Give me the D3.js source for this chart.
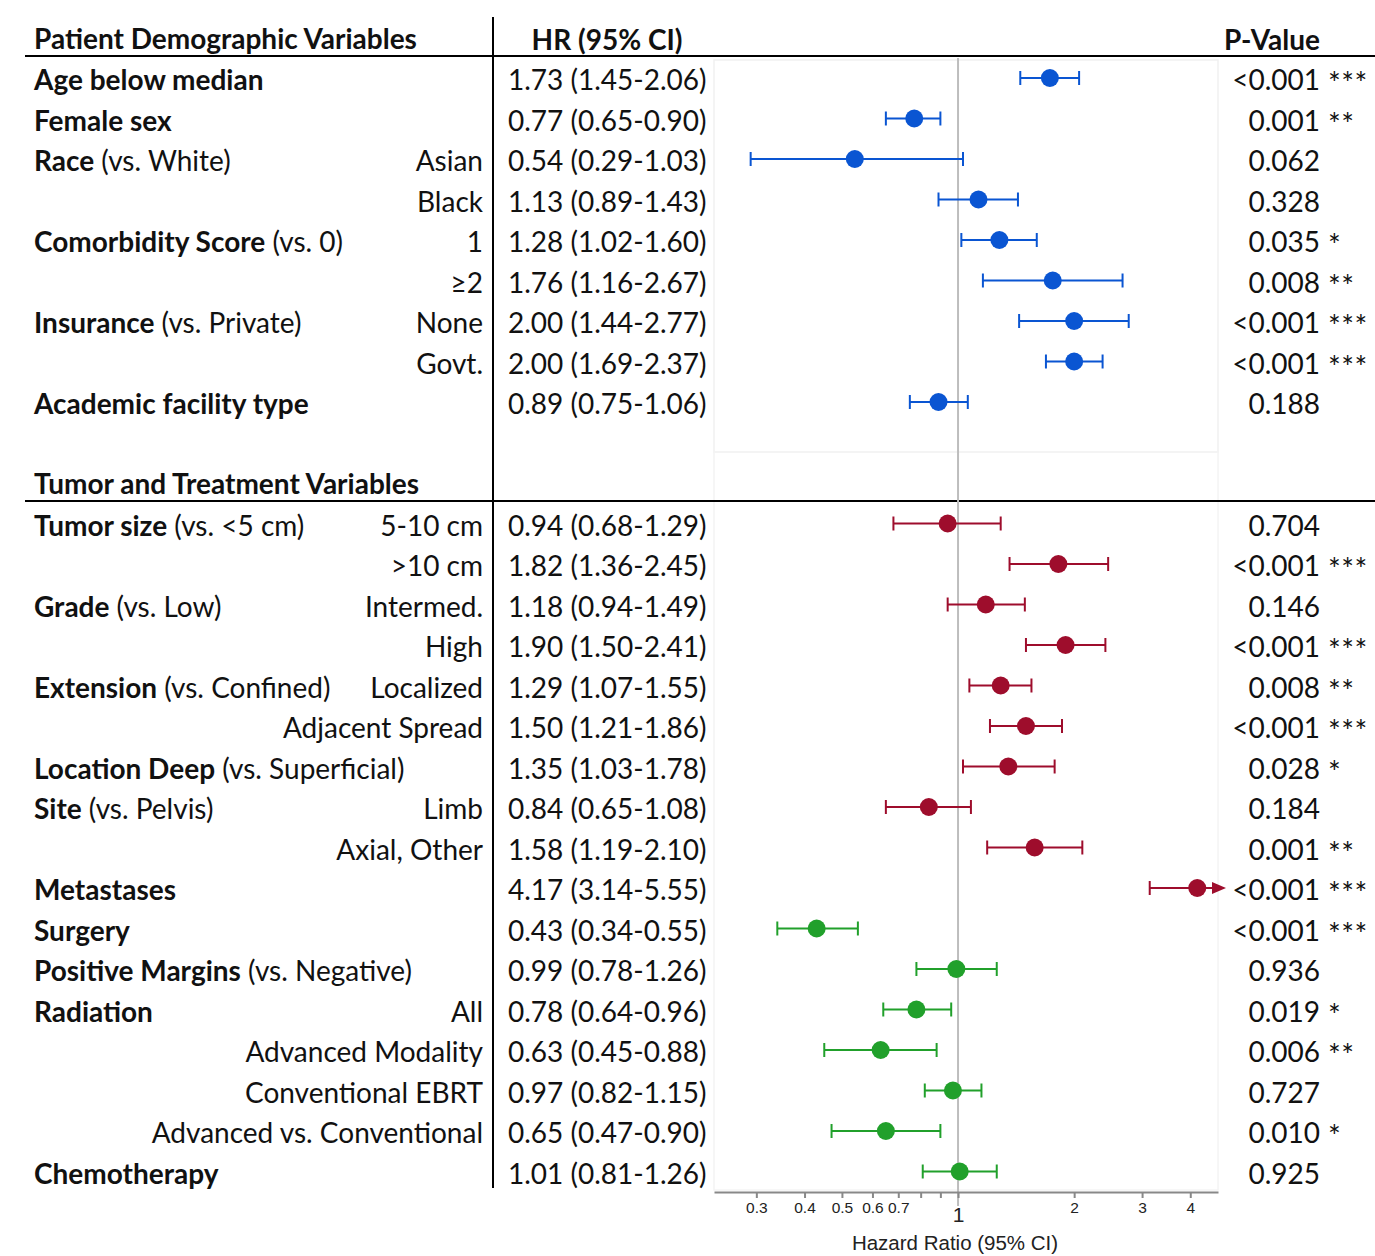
<!DOCTYPE html>
<html><head><meta charset="utf-8">
<script src="https://cdn.jsdelivr.net/npm/d3@7"></script>
<style>body{margin:0;background:#fff}</style>
</head><body><svg id="c" width="1375" height="1256"></svg>
<script>
// ---------- DATA ----------
const mainBold = ["Age below median","Female sex","Race","","Comorbidity Score","","Insurance","","Academic facility type",
  "Tumor size","","Grade","","Extension","","Location Deep","Site","","Metastases","Surgery","Positive Margins","Radiation","","","","Chemotherapy"];
const mainNote = ["","", " (vs. White)","", " (vs. 0)","", " (vs. Private)","","",
  " (vs. <5 cm)","", " (vs. Low)","", " (vs. Confined)",""," (vs. Superficial)"," (vs. Pelvis)","","","", " (vs. Negative)","","","","",""];
const subLabels = ["","","Asian","Black","1","≥2","None","Govt.","",
  "5-10 cm",">10 cm","Intermed.","High","Localized","Adjacent Spread","","Limb","Axial, Other","","","","All","Advanced Modality","Conventional EBRT","Advanced vs. Conventional",""];
const hr  = [1.73,0.77,0.54,1.13,1.28,1.76,2.00,2.00,0.89, 0.94,1.82,1.18,1.90,1.29,1.50,1.35,0.84,1.58,4.17,0.43,0.99,0.78,0.63,0.97,0.65,1.01];
const lo  = [1.45,0.65,0.29,0.89,1.02,1.16,1.44,1.69,0.75, 0.68,1.36,0.94,1.50,1.07,1.21,1.03,0.65,1.19,3.14,0.34,0.78,0.64,0.45,0.82,0.47,0.81];
const hi  = [2.06,0.90,1.03,1.43,1.60,2.67,2.77,2.37,1.06, 1.29,2.45,1.49,2.41,1.55,1.86,1.78,1.08,2.10,5.55,0.55,1.26,0.96,0.88,1.15,0.90,1.26];
const pval = ["<0.001","0.001","0.062","0.328","0.035","0.008","<0.001","<0.001","0.188",
  "0.704","<0.001","0.146","<0.001","0.008","<0.001","0.028","0.184","0.001","<0.001","<0.001","0.936","0.019","0.006","0.727","0.010","0.925"];
const stars = ["***","**","","","*","**","***","***","",
  "","***","","***","**","***","*","","**","***","***","","*","**","","*",""];
const group = ["demo","demo","demo","demo","demo","demo","demo","demo","demo",
  "tumor","tumor","tumor","tumor","tumor","tumor","tumor","tumor","tumor","tumor","treat","treat","treat","treat","treat","treat","treat"];
const sectionTitles = ["Patient Demographic Variables","Tumor and Treatment Variables"];
const tickVals = [0.3,0.4,0.5,0.6,0.7,0.8,0.9,1,2,3,4];
const tickLabelled = [0.3,0.4,0.5,0.6,0.7,1,2,3,4];
const axisTitle = "Hazard Ratio (95% CI)";

// ---------- LAYOUT ----------
const colors = {demo:"#0a55d2", tumor:"#9e0d2c", treat:"#21a02b"};
const svg = d3.select("#c");
const FONT = "Lato, 'Open Sans', sans-serif";
const AXFONT = "'Liberation Sans', Arial, sans-serif";
const fs = 28;

const rowIdx = hr.map((d,i)=> i<9 ? i : i+2);
const y = d3.scaleLinear().domain([0,27]).range([80, 1173.5]);
const x = d3.scaleLog().domain([0.233, 4.72]).range([714, 1218]);

// faint panel boxes
svg.append("rect").attr("x",714).attr("y",60).attr("width",504).attr("height",392)
  .attr("fill","none").attr("stroke","#f1f1f1").attr("stroke-width",1.5);
svg.append("rect").attr("x",714).attr("y",452).attr("width",504).attr("height",738)
  .attr("fill","none").attr("stroke","#f4f4f4").attr("stroke-width",1.5);

// header lines and divider
svg.append("line").attr("x1",25).attr("x2",1375).attr("y1",56).attr("y2",56).attr("stroke","#000").attr("stroke-width",2);
svg.append("line").attr("x1",25).attr("x2",1375).attr("y1",501).attr("y2",501).attr("stroke","#000").attr("stroke-width",2);
svg.append("line").attr("x1",493).attr("x2",493).attr("y1",17).attr("y2",1188).attr("stroke","#000").attr("stroke-width",2);

// headers
const hdr = svg.append("g").attr("font-family",FONT).attr("font-size",fs).attr("font-weight","bold").attr("fill","#111");
hdr.append("text").attr("x",34).attr("y",49).text(sectionTitles[0]);
hdr.append("text").attr("x",34).attr("y",494).text(sectionTitles[1]);
hdr.append("text").attr("x",607).attr("y",50).attr("text-anchor","middle").text("HR (95% CI)");
hdr.append("text").attr("x",1272).attr("y",50).attr("text-anchor","middle").text("P-Value");

// reference line at 1
svg.append("line").attr("x1",x(1)).attr("x2",x(1)).attr("y1",58).attr("y2",1206)
  .attr("stroke","#bdbdbd").attr("stroke-width",2);

// axis
const ax = svg.append("g").attr("transform","translate(0,1192)")
  .call(d3.axisBottom(x).tickValues(tickVals).tickSize(6).tickSizeOuter(0)
    .tickFormat(d => tickLabelled.includes(d) ? String(d) : ""));
ax.select(".domain").attr("stroke","#888").attr("stroke-width",2);
ax.selectAll(".tick line").attr("stroke","#888").attr("stroke-width",2);
ax.selectAll(".tick text").attr("font-family",AXFONT).attr("font-size",15.5).attr("fill","#222").attr("dy","0.8em");
ax.selectAll(".tick").filter(d=>d===1).select("text").attr("font-size",21).attr("dy","1.0em");
svg.append("text").attr("x",955).attr("y",1250).attr("text-anchor","middle")
  .attr("font-family",AXFONT).attr("font-size",20.5).attr("fill","#222").text(axisTitle);

// rows
const rows = svg.append("g").attr("font-family",FONT).attr("font-size",fs).attr("fill","#111");
hr.forEach((v,i)=>{
  const yc = y(rowIdx[i]);
  const bl = yc + 10;
  if (mainBold[i]) {
    const t = rows.append("text").attr("x",34).attr("y",bl);
    t.append("tspan").attr("font-weight","bold").text(mainBold[i]);
    if (mainNote[i]) t.append("tspan").text(mainNote[i]);
  }
  if (subLabels[i]) rows.append("text").attr("x",483).attr("y",bl).attr("text-anchor","end").text(subLabels[i]);
  rows.append("text").attr("x",508).attr("y",bl).text(`${v.toFixed(2)} (${lo[i].toFixed(2)}-${hi[i].toFixed(2)})`);
  rows.append("text").attr("x",1320).attr("y",bl).attr("text-anchor","end").text(pval[i]);
  if (stars[i]) rows.append("text").attr("x",1328).attr("y",bl+4).attr("font-size",30).attr("letter-spacing",0.5).text(stars[i]);

  // marks
  const c = colors[group[i]];
  const py = yc - 2;
  const g = svg.append("g").attr("stroke",c).attr("stroke-width",2);
  const xmax = x.domain()[1];
  const clipped = hi[i] > xmax;
  const xr = clipped ? 1212 : x(hi[i]);
  g.append("line").attr("x1",x(lo[i])).attr("x2",xr).attr("y1",py).attr("y2",py);
  g.append("line").attr("x1",x(lo[i])).attr("x2",x(lo[i])).attr("y1",py-7).attr("y2",py+7);
  if (!clipped) g.append("line").attr("x1",x(hi[i])).attr("x2",x(hi[i])).attr("y1",py-7).attr("y2",py+7);
  else svg.append("path").attr("d",`M${xr},${py-6}L${xr+14},${py}L${xr},${py+6}Z`).attr("fill",c);
  svg.append("circle").attr("cx",x(v)).attr("cy",py).attr("r",9).attr("fill",c);
});
</script></body></html>
